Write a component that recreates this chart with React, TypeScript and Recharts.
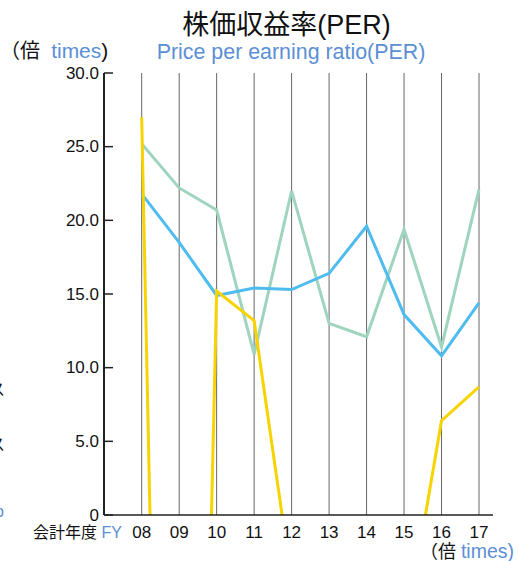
import React from 'react';
import { LineChart, Line, XAxis, YAxis, ReferenceLine } from 'recharts';

const years = ['08', '09', '10', '11', '12', '13', '14', '15', '16', '17'];
const greenPER = [25.2, 22.2, 20.7, 10.9, 22.0, 13.0, 12.1, 19.4, 11.4, 22.1];
const bluePER = [21.8, 18.5, 14.9, 15.4, 15.3, 16.4, 19.6, 13.6, 10.8, 14.4];
const yellowPER = [27.0, -95, 15.2, 13.2, -4.5, -15, -20, -8.5, 6.4, 8.7];
const yTicks = [0, 5, 10, 15, 20, 25, 30];

const data = years.map((y, i) => ({ year: y, green: greenPER[i], blue: bluePER[i], yellow: yellowPER[i] }));

const FONT = "'Liberation Sans', 'Noto Sans CJK JP', sans-serif";
const BLUE_TEXT = '#5b8fd4';

const YTick = (props: any) => {
  const { x, y, payload } = props;
  const v = payload.value as number;
  return (
    <g>
      <line x1={x} x2={x + 9} y1={y} y2={y} stroke="#222" strokeWidth={1.5} />
      <text x={x - 5} y={y} textAnchor="end" dominantBaseline="central" fontSize={17} fontFamily={FONT} fill="#111">
        {v === 0 ? '0' : v.toFixed(1)}
      </text>
    </g>
  );
};

const XTick = (props: any) => {
  const { x, y, payload } = props;
  return (
    <text x={x} y={y + 17} textAnchor="middle" dominantBaseline="central" fontSize={17} fontFamily={FONT} fill="#111">
      {payload.value}
    </text>
  );
};

const abs = (style: React.CSSProperties): React.CSSProperties => ({
  position: 'absolute',
  whiteSpace: 'nowrap',
  fontFamily: FONT,
  lineHeight: 1,
  ...style,
});

export default function App() {
  return (
    <div style={{ position: 'absolute', left: 0, top: 0, width: 518, height: 561, overflow: 'hidden', background: '#fff' }}>
      <LineChart width={518} height={561} data={data} margin={{ top: 73, right: 25, bottom: 16, left: 0 }}>
        <XAxis
          dataKey="year"
          height={30}
          padding={{ left: 37.7, right: 14 }}
          axisLine={{ stroke: '#222', strokeWidth: 1.5 }}
          tickLine={false}
          tickSize={0}
          tickMargin={0}
          tick={<XTick />}
          interval={0}
        />
        <YAxis
          width={104}
          domain={[0, 30]}
          ticks={yTicks}
          allowDataOverflow
          axisLine={{ stroke: '#222', strokeWidth: 2 }}
          tickLine={false}
          tickSize={0}
          tickMargin={0}
          tick={<YTick />}
          interval={0}
        />
        {years.map((y) => (
          <ReferenceLine key={y} x={y} stroke="#666" strokeWidth={1} />
        ))}
        <Line type="linear" dataKey="green" stroke="#9fd4be" strokeWidth={3} dot={false} isAnimationActive={false} />
        <Line type="linear" dataKey="blue" stroke="#4fbcef" strokeWidth={3} dot={false} isAnimationActive={false} />
        <Line type="linear" dataKey="yellow" stroke="#f7d400" strokeWidth={3} dot={false} isAnimationActive={false} />
      </LineChart>

      <div style={abs({ left: 0, top: 50, transform: 'translateY(-50%)', fontSize: 20, color: '#111' })}>
        （倍&nbsp;&nbsp;<span style={{ color: BLUE_TEXT, fontSize: 21 }}>times</span><span style={{ fontSize: 21 }}>)</span>
      </div>
      <div style={abs({ left: 286.5, top: 25, transform: 'translate(-50%, -50%)', fontSize: 27, color: '#111' })}>
        株価収益率(PER)
      </div>
      <div style={abs({ left: 291, top: 53, transform: 'translate(-50%, -50%)', fontSize: 21.4, color: BLUE_TEXT })}>
        Price per earning ratio(PER)
      </div>
      <div style={abs({ right: 4, top: 552, transform: 'translateY(-50%)', fontSize: 18, color: '#111' })}>
        （倍 <span style={{ color: BLUE_TEXT, fontSize: 19.5 }}>times)</span>
      </div>
      <div style={abs({ left: 33, top: 533, transform: 'translateY(-50%)', fontSize: 16, color: '#111' })}>
        会計年度 <span style={{ color: BLUE_TEXT }}>FY</span>
      </div>
      <div style={abs({ left: -11, top: 390, transform: 'translateY(-50%)', fontSize: 16, color: '#111' })}>ス</div>
      <div style={abs({ left: -11, top: 445, transform: 'translateY(-50%)', fontSize: 16, color: '#111' })}>ス</div>
      <div style={abs({ left: -5, top: 512, transform: 'translateY(-50%)', fontSize: 16, color: BLUE_TEXT })}>o</div>
    </div>
  );
}
